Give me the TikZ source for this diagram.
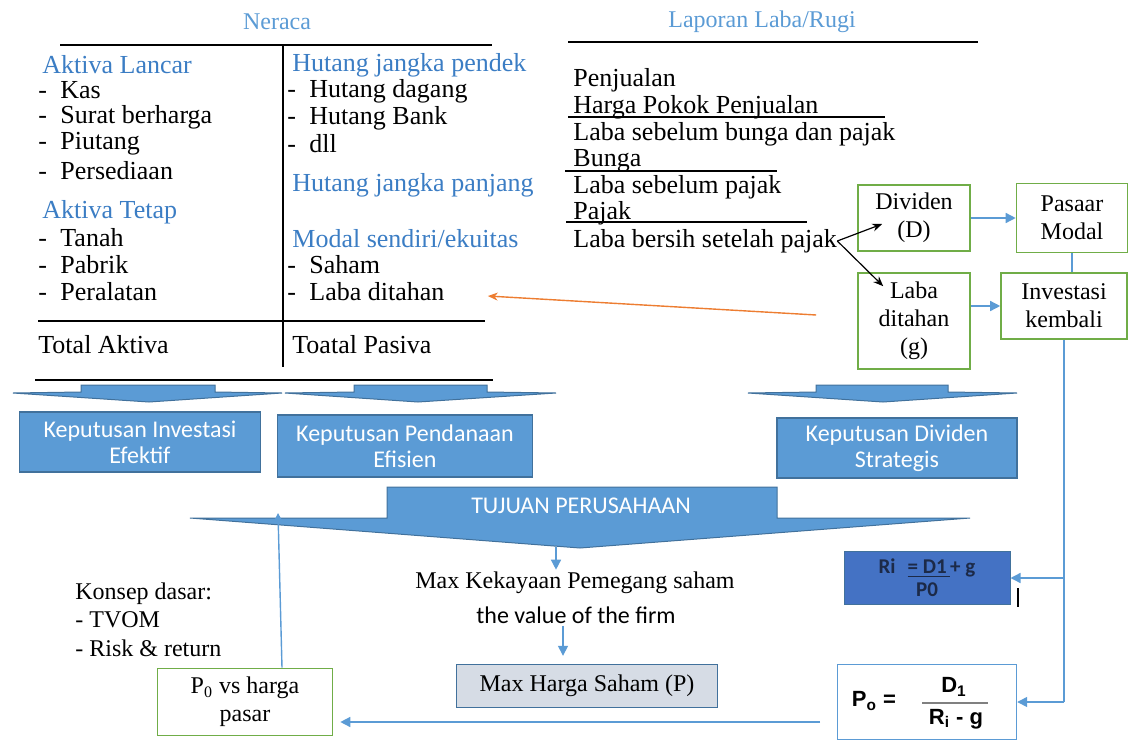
\documentclass[tikz,border=0pt]{standalone}
\usepackage{fontspec}
\setmainfont{Liberation Serif}
\newfontfamily\calibri{Carlito}
\newfontfamily\arial{Liberation Sans}
\usetikzlibrary{arrows.meta, positioning}

\definecolor{birumuda}{HTML}{5B9BD5}
\definecolor{birutua}{HTML}{41719C}
\definecolor{birujudul}{HTML}{3B7DC4}
\definecolor{hijau}{HTML}{70AD47}
\definecolor{oranye}{HTML}{ED7D31}
\definecolor{birurumus}{HTML}{4472C4}
\definecolor{abuharga}{HTML}{D6DCE5}
\definecolor{tekstua}{HTML}{1C2A48}

\newcommand{\itm}[1]{\makebox[11pt][l]{-}#1}

\begin{document}
\begin{tikzpicture}[
    x=0.5pt, y=-0.5pt,
    teks/.style={inner sep=0pt, anchor=west, font=\fontsize{13}{14}\selectfont},
    kepala/.style={teks, text=birujudul},
    judul/.style={inner sep=0pt, text=birumuda, font=\fontsize{12}{13}\selectfont},
    garis/.style={line width=0.75pt},
    kotakhijau/.style={rectangle, draw=hijau, line width=0.8pt, align=center, font=\fontsize{12}{14}\selectfont},
    kotakbiru/.style={rectangle, fill=birumuda, draw=birutua, line width=0.6pt, text=white, align=center, font=\calibri\fontsize{12}{13}\selectfont},
    panahbesar/.style={fill=birumuda, draw=birutua, line width=0.5pt},
    garisbiru/.style={draw=birumuda, line width=0.7pt},
    panahbiru/.style={garisbiru, -{Triangle[length=5pt, width=5pt]}},
    panahhitam/.style={line width=0.6pt, -{Stealth[length=5pt, width=4pt]}},
    panahoranye/.style={draw=oranye, line width=0.7pt, -{Stealth[length=5pt, width=4pt]}}
]
\useasboundingbox (0,0) rectangle (1140,744);

% Neraca
\node[judul] (neraca) at (277,22) {Neraca};
\draw[garis] (60,45) -- (492,45);
\draw[garis] (283,45) -- (283,367);
\draw[garis] (38,321) -- (485,321);
\draw[garis] (35,380) -- (493,380);

\node[kepala] (alancar) at (42,65) {Aktiva Lancar};
\node[teks] (kas) at (38,90) {\itm{Kas}};
\node[teks] (surat) at (38,117) {\itm{Surat berharga}};
\node[teks] (piutang) at (38,144) {\itm{Piutang}};
\node[teks] (sedia) at (38,171) {\itm{Persediaan}};
\node[kepala] (atetap) at (42,212) {Aktiva Tetap};
\node[teks] (tanah) at (38,238) {\itm{Tanah}};
\node[teks] (pabrik) at (38,265) {\itm{Pabrik}};
\node[teks] (alat) at (38,292) {\itm{Peralatan}};
\node[teks] (totakt) at (38,345) {Total Aktiva};

\node[kepala] (hpendek) at (292,65) {Hutang jangka pendek};
\node[teks] (dagang) at (287,91) {\itm{Hutang dagang}};
\node[teks] (bank) at (287,118) {\itm{Hutang Bank}};
\node[teks] (dll) at (287,144) {\itm{dll}};
\node[kepala] (hpanjang) at (292,185) {Hutang jangka panjang};
\node[kepala] (modal) at (292,239) {Modal sendiri/ekuitas};
\node[teks] (saham) at (287,265) {\itm{Saham}};
\node[teks] (ldt) at (287,292) {\itm{Laba ditahan}};
\node[teks] (totpas) at (292,345) {Toatal Pasiva};

% Laporan Laba/Rugi
\node[judul] (labarugi) at (762,22) {Laporan Laba/Rugi};
\draw[garis] (568,42) -- (978,42);
\node[teks] (jual) at (573,80) {Penjualan};
\node[teks] (hpp) at (573,107) {Harga Pokok Penjualan};
\draw[garis] (568,117) -- (885,117);
\node[teks] (lsbp) at (573,134) {Laba sebelum bunga dan pajak};
\node[teks] (bunga) at (573,161) {Bunga};
\draw[garis] (565,171) -- (777,171);
\node[teks] (lsp) at (573,187) {Laba sebelum pajak};
\node[teks] (pajak) at (573,213) {Pajak};
\draw[garis] (566,222) -- (807,222);
\node[teks] (lbsp) at (573,241) {Laba bersih setelah pajak};

% kotak dividen
\node[kotakhijau, minimum width=56pt, minimum height=33pt] (divd) at (914,218) {Dividen\\(D)};
\node[kotakhijau, minimum width=55.5pt, minimum height=34.5pt] (pasar) at (1072,218) {Pasaar\\Modal};
\node[kotakhijau, minimum width=56pt, minimum height=48pt] (lbd) at (914,321) {Laba\\ditahan\\(g)};
\node[kotakhijau, minimum width=63pt, minimum height=33pt] (invest) at (1064,306) {Investasi\\kembali};

\draw[panahhitam] (lbsp.east) -- ([xshift=12.5pt, yshift=-3pt]divd.west);
\draw[panahhitam] (lbsp.east) -- ([xshift=13pt, yshift=-7pt]lbd.north west);
\draw[panahbiru] (divd.east) -- (divd.east -| pasar.west);
\draw[panahbiru] (invest.west -| lbd.east) -- (invest.west);
\draw[garisbiru] (pasar.south) -- (pasar.south |- invest.north);
\draw[panahoranye] ([xshift=-20.5pt, yshift=3pt]lbd.west) -- ([xshift=21.5pt, yshift=-2pt]ldt.east);

% panah ke keputusan
\foreach \ki/\sk/\sn/\ka/\uj in {13/81/215/282/149, 285/354/487/556/418, 748/816/948/1017/883}
  \filldraw[panahbesar] (\sk,385) -- (\sn,385) -- (\sn,392) -- (\ka,393) -- (\uj,402)
    -- (\ki,393) -- (\sk,392) -- cycle;

\node[kotakbiru, minimum width=120.5pt, minimum height=30pt] (kinv) at (140,442) {Keputusan Investasi\\Efektif};
\node[kotakbiru, minimum width=127.5pt, minimum height=31pt] (kpend) at (405,446) {Keputusan Pendanaan\\Efisien};
\node[kotakbiru, minimum width=120pt, minimum height=30pt] (kdiv) at (897,448) {Keputusan Dividen\\Strategis};

% tujuan perusahaan
\filldraw[panahbesar] (387,487) -- (777,487) -- (777,518) -- (970,518) -- (580,548)
  -- (190,518) -- (387,518) -- cycle;
\node[inner sep=0pt, text=white, font=\calibri\fontsize{12}{13}\selectfont] (tujuan) at (581,506) {TUJUAN PERUSAHAAN};
\coordinate (ujung) at (556,547);
\coordinate (tujkiri) at (278,513);

\node[inner sep=1pt, font=\fontsize{12}{13}\selectfont] (maxk) at (575,583) {Max Kekayaan Pemegang saham};
\node[inner sep=1pt, font=\calibri\fontsize{12}{13}\selectfont] (nilai) at (576,615) {the value of the firm};
\node[rectangle, fill=abuharga, draw=birutua, line width=0.7pt, minimum width=130.5pt, minimum height=21.5pt,
  font=\fontsize{12}{13}\selectfont] (harga) at (587,686) {Max Harga Saham (P)};
\draw[panahbiru] (ujung) -- (ujung |- maxk.north);
\draw[panahbiru] ([xshift=-6.5pt]nilai.south) -- ([xshift=-12pt, yshift=4pt]harga.north);

% konsep dasar
\node[inner sep=0pt, anchor=west, font=\fontsize{12}{13}\selectfont] (konsep) at (75,594) {Konsep dasar:};
\node[inner sep=0pt, anchor=west, font=\fontsize{12}{13}\selectfont] (tvom) at (75,620) {- TVOM};
\node[inner sep=0pt, anchor=west, font=\fontsize{12}{13}\selectfont] (risk) at (75,648) {- Risk \& return};

\node[kotakhijau, minimum width=87.5pt, minimum height=33.5pt] (pvs) at (245,702) {P\textsubscript{0} vs harga\\pasar};
\draw[panahbiru] ([xshift=18.5pt]pvs.north) -- (tujkiri);

% rumus
\node[rectangle, fill=birurumus, draw=birutua, line width=0.5pt, minimum width=83pt, minimum height=26.5pt,
  text=tekstua, align=center, font=\calibri\bfseries\fontsize{10.5}{11.5}\selectfont] (ri) at (927,578)
  {Ri\hspace{6pt}\underline{= D1\,}+ g\\P0};
\draw[line width=0.6pt] (1018,588) -- (1018,607);

\node[rectangle, draw=birumuda, line width=0.7pt, minimum width=89.5pt, minimum height=37.5pt] (pnol) at (927,702) {};
\node[inner sep=0pt, font=\arial\bfseries\fontsize{11}{12}\selectfont] (po) at (874,701) {P\textsubscript{o} =};
\node[inner sep=0pt, font=\arial\bfseries\fontsize{11}{12}\selectfont] (dsatu) at (954,687) {D\textsubscript{1}};
\node[inner sep=0pt, font=\arial\bfseries\fontsize{11}{12}\selectfont] (rig) at (956,719) {R\textsubscript{i} - g};
\draw[line width=0.6pt, draw=gray] (922,703) -- (988,703);

\draw[garisbiru] (invest.south) -- (invest.south |- pnol.east);
\draw[panahbiru] (invest.south |- ri.east) -- (ri.east);
\draw[panahbiru] (invest.south |- pnol.east) -- (pnol.east);

\coordinate (kiri) at (820,722);
\draw[panahbiru, shorten >=3.5pt] (kiri) -- (kiri -| pvs.east);
\end{tikzpicture}
\end{document}
